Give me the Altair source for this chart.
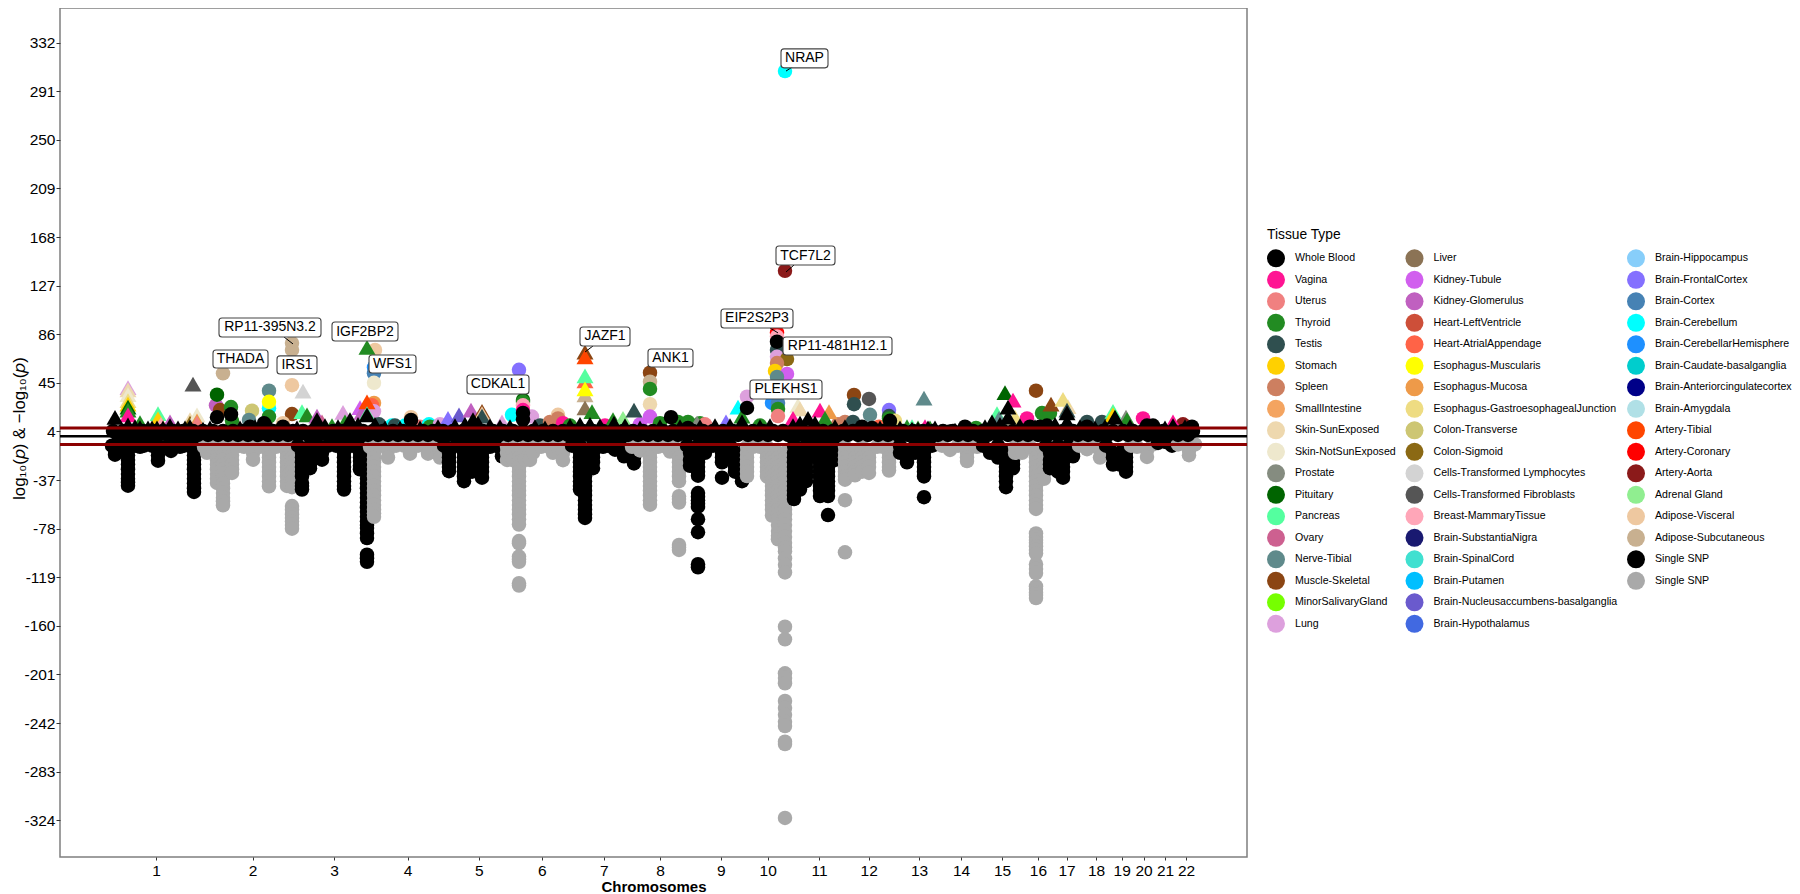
import altair as alt
import pandas as pd

FONT = "Liberation Sans"

TISSUES = ["Whole Blood","Vagina","Uterus","Thyroid","Testis","Stomach","Spleen","SmallIntestine","Skin-SunExposed","Skin-NotSunExposed","Prostate","Pituitary","Pancreas","Ovary","Nerve-Tibial","Muscle-Skeletal","MinorSalivaryGland","Lung",
"Liver","Kidney-Tubule","Kidney-Glomerulus","Heart-LeftVentricle","Heart-AtrialAppendage","Esophagus-Muscularis","Esophagus-Mucosa","Esophagus-GastroesophagealJunction","Colon-Transverse","Colon-Sigmoid","Cells-Transformed Lymphocytes","Cells-Transformed Fibroblasts","Breast-MammaryTissue","Brain-SubstantiaNigra","Brain-SpinalCord","Brain-Putamen","Brain-Nucleusaccumbens-basalganglia","Brain-Hypothalamus",
"Brain-Hippocampus","Brain-FrontalCortex","Brain-Cortex","Brain-Cerebellum","Brain-CerebellarHemisphere","Brain-Caudate-basalganglia","Brain-Anteriorcingulatecortex","Brain-Amygdala","Artery-Tibial","Artery-Coronary","Artery-Aorta","Adrenal Gland","Adipose-Visceral","Adipose-Subcutaneous","Single SNP","Single SNP ","  ","   "]
COLORS = ["#000000","#FF1493","#F08080","#228B22","#2F4F4F","#FFD000","#CD7F60","#F4A460","#EED8AE","#EEE8CD","#858C80","#006400","#54FF9F","#CD6090","#5F8A8B","#8B4513","#76FF00","#DDA0DD",
"#8B7355","#D15FEE","#C060C0","#CD4F39","#FF6347","#FFFF00","#EE9A49","#EEDC82","#CDC673","#8B6914","#D3D3D3","#555555","#FFA6B8","#191970","#40E0D0","#00BFFF","#6A5ACD","#4169E1",
"#87CEFA","#8470FF","#4682B4","#00FFFF","#1E90FF","#00CDCD","#000088","#B0E0E6","#FF4500","#FF0000","#8B1A1A","#90EE90","#EEC8A0","#C8B090","#000000","#A9A9A9","#FFFFFF","#FFFFFF"]

Y_TICKS = [-324,-283,-242,-201,-160,-119,-78,-37,4,45,86,127,168,209,250,291,332]
X_TICKS = [156,252.6,334,407.6,478.8,541.9,603.9,660,720.7,767.7,819,868.7,919,961,1002,1037.9,1066.6,1096,1121.7,1143.5,1165,1186]
X_LABELS = [str(i) for i in range(1,23)]

# Lead single-SNP associations per chromosome: position -> -log10(p) values
SNP_CHR1 = {112:[-8],120:[-8],115:[-12,-15.6],128:[-8,-12,-16,-20,-24,-28,-32,-36,-39,-41.8],136:[-8],140:[-9],144:[-8],152:[-8],158:[-8,-12,-16,-20.7],168:[-8],171:[-12.5],176:[-8],180:[-9],184:[-8],192:[-8],194:[-12,-16,-20,-24,-28,-32,-36,-40,-44,-47],198:[-8]}
SNP_CHR2 = {204:[-9],207:[-14],212:[-9],217:[-16,-20,-24,-28,-32,-36,-39.5],220:[-9],223:[-16,-20,-24,-28,-32,-36,-40,-44,-48,-52,-55,-58.3],228:[-9],232:[-16,-20,-24,-28,-31],236:[-9],244:[-9],252:[-9],253:[-14,-19.8],260:[-9],268:[-9],269:[-14,-18,-22,-26,-30,-34,-38,-42.3],276:[-9],284:[-9],287:[-14,-18,-22,-26,-30,-34,-38,-42],292:[-9,-14,-18,-22,-26,-30,-34,-38,-43,-59,-62,-66,-69,-72,-75,-78]}
SNP_CHR3 = {298:[-8],302:[-14,-18,-22,-26,-30,-34,-39.5,-42,-45],304:[-25],310:[-8,-14,-20,-24,-27],318:[-8],322:[-14,-19.8],328:[-8],336:[-8],344:[-8,-14,-18,-22,-26,-30,-34,-38,-42,-45],352:[-8],360:[-8,-14,-18,-21,-25,-28],367:[-8,-12,-16,-20,-24,-28,-32,-36,-40,-44,-48,-52,-56,-60,-64,-68,-72,-75,-77.5,-82,-86,-100,-103,-106]}
SNP_CHR4 = {370:[-9],374:[-14,-18,-22,-26,-30,-34,-38,-42,-46,-50,-54,-58,-62,-65,-68],380:[-8],388:[-8,-12,-18],396:[-8],404:[-8],410:[-8,-14.8],418:[-8],426:[-8],428:[-14.8],434:[-8],440:[-12,-18]}
SNP_CHR5 = {444:[-8],449:[-14,-18,-22,-26,-29.5],456:[-8],464:[-8,-14,-18,-22,-26,-30,-34,-38],472:[-8,-14,-18,-22,-26,-30],482:[-8,-14,-18,-22,-26,-30,-35],490:[-9],496:[-8],502:[-8,-12,-17]}
SNP_CHR6 = {507:[-9,-14,-20],513:[-9,-14,-20],519:[-14,-18,-22,-26,-30,-34,-38,-42,-46,-50,-54,-58,-62,-66,-70,-74.6,-88.5,-90.4,-101.6,-104,-106,-124,-126],525:[-9,-14,-20],530:[-14,-20],533:[-9,-14],541:[-9],549:[-9],553:[-14],557:[-9],563:[-9,-14,-20.3]}
SNP_CHR7 = {572:[-8],580:[-8,-14,-18,-22,-26,-30,-34,-38,-42,-45],585:[-14,-18,-22,-26,-30,-34,-38,-42,-46,-50,-54,-58,-62,-66,-69],593:[-8,-14,-18,-22,-27],603:[-9],608:[-8],615:[-8,-11.4],622:[-8],624:[-12,-17],634:[-8,-12,-18,-23]}
SNP_CHR8 = {632:[-9],640:[-9,-12],650:[-9,-14,-18,-22,-26,-30,-34,-38,-42,-46,-50,-54,-57.8],658:[-9],666:[-9],670:[-13],674:[-9],679:[-14,-18,-22,-26,-30,-34,-38,-50.6,-53,-56,-91.8,-94,-96]}
SNP_CHR9 = {687:[-8],690:[-14,-20,-25],698:[-8,-14,-18,-22,-26,-30,-33.3,-48,-51,-54,-57,-59.5,-70,-81,-108,-110.6],705:[-8,-14],713:[-8],722:[-8,-14,-18,-22,-35],730:[-8],735:[-14,-18,-22,-26,-30],742:[-14,-18,-22,-26,-30,-34,-38]}
SNP_CHR10 = {747:[-9,-14,-18,-22,-26,-30,-33.7],753:[-9],760:[-9],767:[-9,-14,-18,-22,-26,-30,-34],772:[-14,-18,-22,-26,-30,-34,-38,-42,-46,-50,-54,-58,-62,-67],778:[-14,-18,-22,-26,-30,-34,-38,-42,-46,-50,-54,-58,-62,-66,-70,-75,-80,-84,-87],785:[-14,-18,-22,-26,-30,-34,-38,-42,-46,-50,-54,-58,-62,-66,-70,-75,-80,-85,-90,-94,-97,-103,-108.5,-115,-160.7,-171.4,-200,-204,-208.5,-223.4,-229.3,-235,-241,-244.5,-257.7,-259.7,-322]}
SNP_CHR11 = {794:[-8,-14,-18,-22,-26,-30,-34,-38,-42,-46,-50,-53],800:[-14,-18,-22,-26,-30,-34,-38,-42,-45],806:[-8,-14,-18,-22,-26,-30,-34,-38],812:[-8,-16],820:[-8,-14,-18,-22,-26,-30,-34,-38,-42,-46,-50.5],828:[-8,-14,-18,-22,-26,-30,-34,-38,-42,-46,-50.5,-66.5],835:[-8,-14,-20]}
SNP_CHR12 = {845:[-9,-14,-18,-22,-26,-30,-34,-36.7,-54,-98],855:[-14,-18,-22,-26,-30,-33],862:[-9,-14,-18,-22,-26,-30],869:[-14,-18,-22,-26,-31],877:[-9],883:[-9],889:[-9,-14,-18,-22,-26,-29],893:[-9]}
SNP_CHR13 = {900:[-8,-14],907:[-14,-18,-22],915:[-8,-14],924:[-8,-14,-18,-22,-26,-30,-34,-51.5],932:[-8],935:[-7]}
SNP_CHR14 = {942:[-8],950:[-11.6],958:[-8],967:[-8,-14,-18,-21],975:[-8],977:[-9]}
SNP_CHR15 = {983:[-8],990:[-14],998:[-8,-14,-18],1006:[-14,-18,-22,-26,-30,-34,-38,-43],1013:[-14,-20,-24,-27]}
SNP_CHR16 = {1015:[-9,-14],1022:[-9,-14],1030:[-9],1036:[-14,-18,-22,-26,-30,-34,-38,-42,-46,-50,-54,-58,-61.4,-82,-85,-87.6,-90,-93,-96,-99,-108,-112,-115.5,-126.6,-129,-132,-134,-136.6],1044:[-14,-18,-22,-26,-30,-36]}
SNP_CHR17 = {1046:[-8],1050:[-14,-20,-24,-27],1058:[-8,-14,-18,-22,-26,-30],1063:[-14,-18,-22,-26,-30,-35],1069:[-8],1073:[-12,-17]}
SNP_CHR18 = {1079:[-8],1087:[-11],1094:[-8],1100:[-12,-18]}
SNP_CHR19 = {1106:[-8],1113:[-14,-18,-24],1120:[-14,-18,-24],1126:[-14,-18,-22,-26,-30]}
SNP_CHR20 = {1131:[-8],1137:[-9],1147:[-12,-17.5],1153:[-7]}
SNP_CHR21 = {1158:[-5.7],1166:[-5],1172:[-8]}
SNP_CHR22 = {1178:[-7],1180:[-6],1186:[-7],1189:[-12,-16],1195:[-7]}
SNP_BY_CHR = [SNP_CHR1,SNP_CHR2,SNP_CHR3,SNP_CHR4,SNP_CHR5,SNP_CHR6,SNP_CHR7,SNP_CHR8,SNP_CHR9,SNP_CHR10,SNP_CHR11,SNP_CHR12,SNP_CHR13,SNP_CHR14,SNP_CHR15,SNP_CHR16,SNP_CHR17,SNP_CHR18,SNP_CHR19,SNP_CHR20,SNP_CHR21,SNP_CHR22]

# Sub-threshold cloud around zero, both rows
BAND_X = [113,118,123,128,133,138,143,148,153,158,163,168,173,178,183,188,193,198,203,208,213,218,223,228,233,238,243,248,253,258,263,268,273,278,283,288,293,298,303,308,313,318,323,328,333,338,343,348,353,358,363,368,373,378,383,388,393,398,403,408,413,418,423,428,433,438,443,448,453,458,463,468,473,478,483,488,493,498,503,508,513,518,523,528,533,538,543,548,553,558,563,568,573,578,583,588,593,598,603,608,613,618,623,628,633,638,643,648,653,658,663,668,673,678,683,688,693,698,703,708,713,718,723,728,733,738,743,748,753,758,763,768,773,778,783,788,793,798,803,808,813,818,823,828,833,838,843,848,853,858,863,868,873,878,883,888,893,898,903,908,913,918,923,928,933,938,943,948,953,958,963,968,973,978,983,988,993,998,1003,1008,1013,1018,1023,1028,1033,1038,1043,1048,1053,1058,1063,1068,1073,1078,1083,1088,1093,1098,1103,1108,1113,1118,1123,1128,1133,1138,1143,1148,1153,1158,1163,1168,1173,1178,1183,1188,1193]
BAND_LEVELS = [4.4, 1.0]

TISSUE_CIRCLES = [("Adipose-Subcutaneous",223,53),("Kidney-Glomerulus",216,26),("Muscle-Skeletal",220,22),("Pituitary",217,35),("Thyroid",231,24.6),("Thyroid",232,13),("Colon-Transverse",252,21.5),("Nerve-Tibial",249,13.7),
("Brain-Cerebellum",269,23.6),("Nerve-Tibial",269,38.4),("Esophagus-Muscularis",269,29),("Thyroid",269,16.5),("Adipose-Subcutaneous",292,78.6),("Adipose-Subcutaneous",292,72.7),("Adipose-Visceral",292,43),("Muscle-Skeletal",292,18.7),("Adipose-Visceral",283,11),
("Adipose-Visceral",375,72.7),("Brain-CerebellarHemisphere",374,58),("Brain-Cortex",374,53),("Skin-NotSunExposed",374,45),("Esophagus-Mucosa",374,28),("Heart-AtrialAppendage",372,26),("Lung",374,21),("Testis",379,10),("Brain-Cerebellum",392,9),("Testis",395,9),("Brain-Cerebellum",405,9),("Adipose-Visceral",411,16),("Uterus",420,8),("Brain-Cerebellum",429,10),("Thyroid",430,8),("Lung",440,10),
("Brain-Cerebellum",512,18),("Brain-FrontalCortex",519,56),("Pituitary",523,30.5),("Thyroid",523,29),("Breast-MammaryTissue",523,26),("Vagina",523,22),("Lung",532,16.5),("Testis",540,9),("Spleen",550,12),("Adipose-Visceral",558,18),("Spleen",558,15),("Vagina",563,11),("Thyroid",570,9),("Vagina",605,9),("Kidney-Tubule",640,10),
("Muscle-Skeletal",650,53.6),("Adipose-Subcutaneous",650,46),("Thyroid",650,39.8),("Skin-SunExposed",650,27),("Kidney-Tubule",650,16.5),("Thyroid",660,11),("Thyroid",678,12),("Thyroid",688,12),("Thyroid",700,11),("Uterus",705,10),("Lung",747,33.3),("Thyroid",760,9),
("Artery-Coronary",777,87.3),("Breast-MammaryTissue",777,84),("Testis",777,72.7),("Lung",777,67),("Colon-Sigmoid",787,65),("Spleen",777,61.7),("Stomach",775,55),("Kidney-Tubule",787,52.5),("Nerve-Tibial",777,50),("Brain-CerebellarHemisphere",772,28),("Brain-Cortex",778,28),("Thyroid",778,23),("Uterus",778,17),
("Brain-Cerebellum",785,308),("Artery-Aorta",785,139.5),("Spleen",838,10),
("Muscle-Skeletal",854,34.8),("Testis",854,27),("Cells-Transformed Fibroblasts",869,31.4),("Spleen",845,12),("Nerve-Tibial",870,18),("Testis",853,12),("Heart-AtrialAppendage",879,8),("Brain-FrontalCortex",889,22),("Testis",889,17),("Thyroid",889,15),("Esophagus-GastroesophagealJunction",895,13),
("Thyroid",976,7),("Muscle-Skeletal",1036,38.4),("Vagina",1027,15),("Thyroid",1042,19.5),("Thyroid",1050,19.5),("Testis",1087,12),("Testis",1102,12),("Vagina",1143,15),("Artery-Aorta",1183,10)]
WHOLE_BLOOD_CIRCLES = [(217,16),(231,18.4),(250,8),(264,11),(283,8),(411,13.7),(523,19.6),(523,14),(671,16),(688,7),(747,23.8),(777,79.7),(862,8),(872,7),(890,13),(950,4),(965,8),(1030,8),(1040,8),(1047,9),(1087,8),(1147,9),(1153,9),(1192,8)]
TISSUE_TRIANGLES = [("Lung",128,41),("Skin-SunExposed",128,39),("Skin-NotSunExposed",128,35),("Esophagus-GastroesophagealJunction",128,30),("Stomach",128,27),("Pituitary",128,24.5),("Thyroid",128,22),("Vagina",128,18),("Thyroid",140,11.5),("Pancreas",158,19),("Stomach",158,14.5),("Breast-MammaryTissue",161,10),("Kidney-Glomerulus",170,12),("Skin-SunExposed",190,14),("Colon-Sigmoid",190,11),("Skin-NotSunExposed",197,18),("Esophagus-Mucosa",197,13),("Uterus",197,11),
("Cells-Transformed Fibroblasts",193,44),("Cells-Transformed Lymphocytes",303,38),("Pancreas",302,20.7),("Thyroid",307,18),("Kidney-Glomerulus",317,17),("Ovary",322,12),("Thyroid",332,9),("Lung",343,20),("Thyroid",345,12),("Kidney-Tubule",360,24),("Kidney-Glomerulus",362,20),("Artery-Tibial",367,29),("Pancreas",367,19),("Thyroid",367,75),
("Brain-FrontalCortex",448,15),("Brain-Nucleusaccumbens-basalganglia",459,18),("Kidney-Glomerulus",471,22),("Muscle-Skeletal",482,21),("Adipose-Visceral",482,19),("Testis",482,17),("Lung",502,12),
("Muscle-Skeletal",585,71),("Artery-Tibial",585,67),("Heart-AtrialAppendage",585,46.7),("Pancreas",585,50.8),("Adipose-Subcutaneous",585,34.8),("Esophagus-Muscularis",585,39.8),("Liver",585,23.8),("Thyroid",592,20.7),("Thyroid",613,14),("Adrenal Gland",623,15),("Testis",634,22),("Prostate",697,11),
("Brain-FrontalCortex",726,12),("Brain-Cerebellum",738,24.6),("Thyroid",742,17),("Skin-NotSunExposed",798,26),("Skin-SunExposed",800,23),("Vagina",793,15),("Vagina",820,22),("Esophagus-Mucosa",829,20.7),("Thyroid",825,15),
("Thyroid",907,8),("Pancreas",912,8),("Thyroid",918,7),("Nerve-Tibial",924,32),("Vagina",925,8),("Thyroid",930,7),("Pancreas",997,19),("Nerve-Tibial",999,15),("Pituitary",1005,36.7),("Vagina",1013,30.5),("Esophagus-GastroesophagealJunction",1015,16),("Muscle-Skeletal",1051,27),("Skin-SunExposed",1068,25),("Esophagus-GastroesophagealJunction",1063,31),("Testis",1067,22),("Pancreas",1113,21),("Stomach",1113,18),("Prostate",1126,16),("Thyroid",1127,14),("Vagina",1173,12)]
WHOLE_BLOOD_TRIANGLES = [(115,15.8),(128,9.5),(135,8),(140,7.3),(148,7),(152,7),(157,7),(163,7),(170,9),(178,7),(185,7),(190,8),(203,6),(210,7),(240,7),(255,8),(270,8),(285,7),(297,7),(317,14),(325,9),(338,8),(350,14),(358,10),(367,18),(375,10),(385,7),(400,7),(420,7),(438,8),(455,9),(465,10),(473,14),(478,11),(490,9),(500,8),(510,8),(535,8),(545,7),(570,9),(580,10),(590,10),(600,9),(614,11),(625,9),(640,7),(660,8),(680,8),(700,8),(715,9),(730,9),(742,12),(760,8),(770,9),(793,9),(800,11),(808,15),(815,11),(835,8),(845,8),(880,7),(900,7),(912,6),(918,6),(928,7),(935,7),(955,5),(970,6),(985,8),(992,12),(1000,10),(1008,24.6),(1008,16),(1020,9),(1035,8),(1055,10),(1067,19.6),(1067,12),(1080,8),(1095,7),(1105,8),(1115,16),(1130,8),(1165,7),(1173,9),(1185,8)]

LABEL_TEXT = ["NRAP","TCF7L2","RP11-395N3.2","IGF2BP2","THADA","IRS1","WFS1","CDKAL1","JAZF1","ANK1","EIF2S2P3","RP11-481H12.1","PLEKHS1"]
LABEL_X1 = [781,776,219,332,213,277,369,467,580,648,721,783,750]
LABEL_X2 = [828,835,321,398,268,317,416,529,630,693,793,892,822]
LABEL_Y1 = [310.7,144.4,83.7,80.3,57.5,52.5,53.3,35.6,76.1,58.4,91.3,68.5,31.4]
LABEL_Y2 = [326.7,160.4,99.7,96.3,72.7,67.7,68.5,51.6,92.1,73.6,107.3,83.7,47.4]
LEADER_X1 = [794,794,284,593,770]
LEADER_X2 = [786,786,293,585,778]
LEADER_Y1 = [312.4,144.4,83.7,76.1,91.3]
LEADER_Y2 = [308,138.5,77.8,71,87.1]

snp_rows = []
for i, chrom in enumerate(SNP_BY_CHR):
    tissue = "Single SNP" if i % 2 == 0 else "Single SNP "
    for x, ys in sorted(chrom.items()):
        for y in ys:
            snp_rows.append({"x": x, "y": y, "t": tissue})
band_rows = [{"x": x, "y": BAND_LEVELS[i % 2], "t": "Single SNP"} for i, x in enumerate(BAND_X)]
snp_df = pd.DataFrame(snp_rows + band_rows)
circ_df = pd.DataFrame(TISSUE_CIRCLES, columns=["t","x","y"])
tri_df = pd.DataFrame(TISSUE_TRIANGLES, columns=["t","x","y"])
wb_c = pd.DataFrame(WHOLE_BLOOD_CIRCLES, columns=["x","y"]).assign(t="Whole Blood")
wb_t = pd.DataFrame(WHOLE_BLOOD_TRIANGLES, columns=["x","y"]).assign(t="Whole Blood")
labels = pd.DataFrame({"text":LABEL_TEXT,"x1":LABEL_X1,"x2":LABEL_X2,"y1":LABEL_Y1,"y2":LABEL_Y2})
labels["xm"] = (labels.x1+labels.x2)/2
labels["ym"] = (labels.y1+labels.y2)/2
leaders = pd.DataFrame({"x1":LEADER_X1,"x2":LEADER_X2,"y1":LEADER_Y1,"y2":LEADER_Y2})

label_expr = "{" + ",".join(f"'{v}':'{l}'" for v, l in zip(X_TICKS, X_LABELS)) + "}[''+datum.value]"
X = alt.X("x:Q", scale=alt.Scale(domain=[60,1247], nice=False, zero=False),
          axis=alt.Axis(values=X_TICKS, labelExpr=label_expr, grid=False, domain=False, tickSize=3, tickColor="#333333",
                        labelFontSize=15.5, labelFont=FONT, labelColor="#000000", labelPadding=3, labelFlush=False, labelOverlap=False,
                        title="Chromosomes", titleFont=FONT, titleFontSize=15, titleFontWeight="bold", titleColor="#000000", titleY=34, titleBaseline="alphabetic"))
Y = alt.Y("y:Q", scale=alt.Scale(domain=[-355,361.2], nice=False, zero=False),
          axis=alt.Axis(values=Y_TICKS, labelExpr="''+datum.value", grid=False, domain=False, tickSize=4, tickColor="#333333",
                        labelFontSize=15.5, labelFont=FONT, labelColor="#000000", labelPadding=1, labelOverlap=False,
                        title="log₁₀(𝑝) & −log₁₀(𝑝)", titleFont=FONT, titleFontSize=16.8, titleFontWeight="normal", titleColor="#000000", titleX=-36, titleY=420, titleBaseline="alphabetic"))
COLOR = alt.Color("t:N", scale=alt.Scale(domain=TISSUES, range=COLORS),
                  legend=alt.Legend(title="Tissue Type", orient="none", legendX=1207, legendY=219.5, columns=3, symbolType="circle", symbolSize=324, symbolLimit=60,
                                    symbolStrokeWidth=0, labelFontSize=10.6, labelFont=FONT, labelColor="#000000", labelOffset=10, labelLimit=260,
                                    titleFont=FONT, titleFontSize=13.8, titleFontWeight="normal", titleColor="#000000", titlePadding=8,
                                    columnPadding=9.5, rowPadding=3.5, gridAlign="each", values=TISSUES))

def pts(df, shape, size):
    return alt.Chart(df).mark_point(shape=shape, size=size, filled=True, opacity=1, strokeWidth=0).encode(x=X, y=Y, color=COLOR)

ref = alt.Chart(pd.DataFrame({"y":[7.0,-7.0]})).mark_rule(color="#8B0000", strokeWidth=3).encode(y=alt.Y("y:Q"))
zero = alt.Chart(pd.DataFrame({"y":[0]})).mark_rule(color="#000000", strokeWidth=2.5).encode(y=alt.Y("y:Q"))
boxes = alt.Chart(labels).mark_rect(fill="#FFFFFF", stroke="#444444", strokeWidth=1.1, cornerRadius=3).encode(
    x="x1:Q", x2="x2:Q", y="y1:Q", y2="y2:Q")
texts = alt.Chart(labels).mark_text(font=FONT, fontSize=14, color="#000000", baseline="middle", align="center").encode(
    x="xm:Q", y="ym:Q", text="text:N")
lead = alt.Chart(leaders).mark_rule(color="#000000", strokeWidth=1).encode(x="x1:Q", x2="x2:Q", y="y1:Q", y2="y2:Q")

chart = alt.layer(
    pts(circ_df, "circle", 210),
    pts(tri_df, "triangle-up", 290),
    pts(wb_t, "triangle-up", 290),
    pts(wb_c, "circle", 210),
    pts(snp_df, "circle", 210),
    zero, ref, lead, boxes, texts
).properties(
    width=1187, height=849,
    autosize=alt.AutoSizeParams(type="none"),
    padding={"left":52,"top":0,"right":545,"bottom":37},
    background="#FFFFFF",
).configure_view(stroke="#7f7f7f", strokeWidth=1.5)

chart.save("out.html", embed_options={"renderer": "svg", "actions": False})
